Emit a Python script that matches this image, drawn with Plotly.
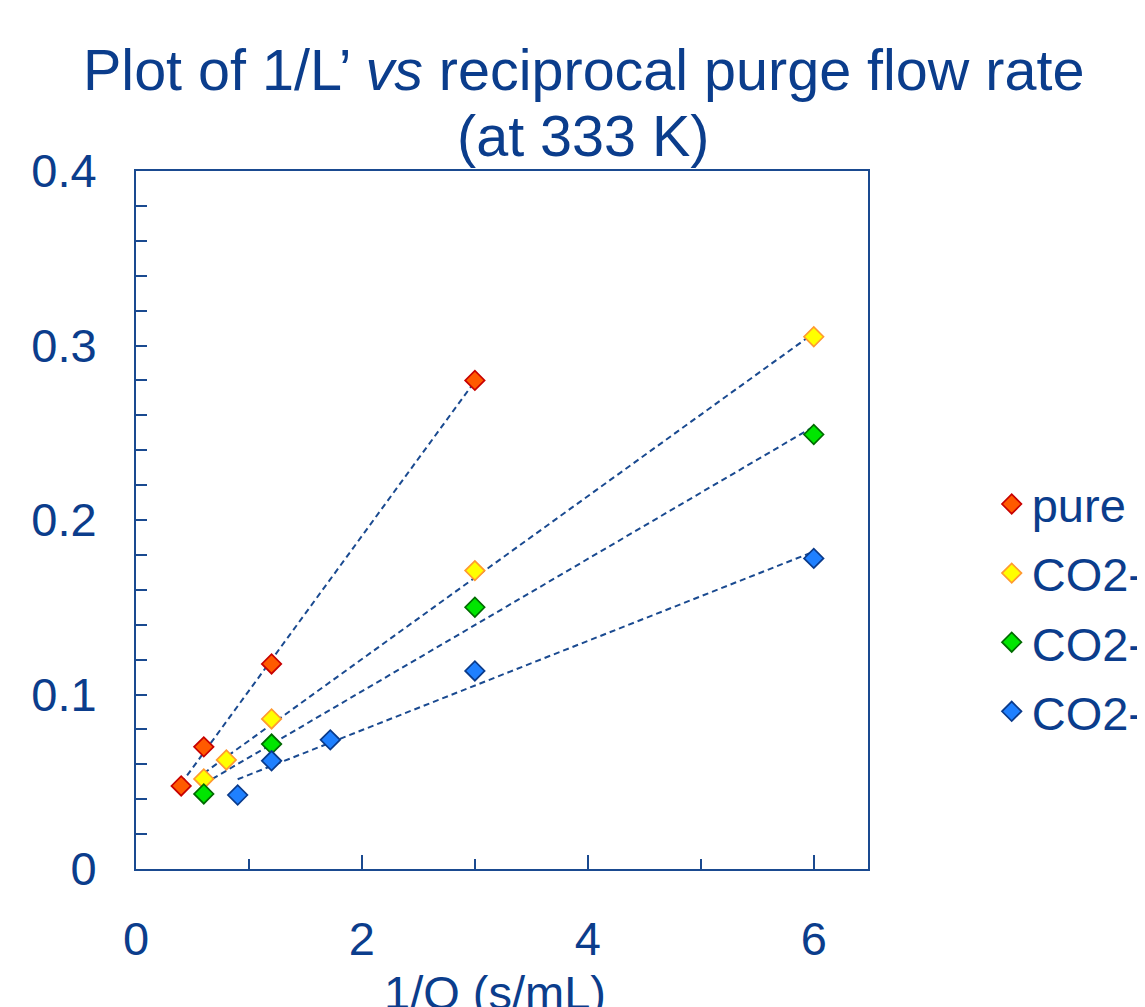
import numpy as np
import plotly.graph_objects as go

# ---- data ----
series_names = ["pure CO2", "CO2-mix A", "CO2-mix B", "CO2-mix C"]
x_pure = [0.4, 0.6, 1.2, 3.0]
y_pure = [0.0476, 0.070, 0.1175, 0.280]
x_a = [0.6, 0.8, 1.2, 3.0, 6.0]
y_a = [0.0516, 0.0625, 0.086, 0.171, 0.305]
x_b = [0.6, 1.2, 3.0, 6.0]
y_b = [0.043, 0.0716, 0.150, 0.249]
x_c = [0.9, 1.2, 1.72, 3.0, 6.0]
y_c = [0.0424, 0.062, 0.074, 0.1135, 0.178]

x_tick_vals = [0, 2, 4, 6]
y_tick_vals = [0, 0.1, 0.2, 0.3, 0.4]
y_tick_text = ["0", "0.1", "0.2", "0.3", "0.4"]

fills = ["#ff5a00", "#ffff00", "#00e600", "#1f80ff"]
edges = ["#c80000", "#ff9a30", "#006a00", "#0a3a8a"]

TXT = "#0b3d8c"
AX = "#1a4a90"
FONT = "Liberation Sans, Arial, sans-serif"

fig = go.Figure()
datasets = [(x_pure, y_pure), (x_a, y_a), (x_b, y_b), (x_c, y_c)]

# dashed linear trend lines (least-squares fit of each series)
for xs, ys in datasets:
    k, b = np.polyfit(xs, ys, 1)
    xl = [min(xs), max(xs)]
    fig.add_trace(go.Scatter(
        x=xl, y=[k * v + b for v in xl], mode="lines",
        line=dict(color=AX, width=2, dash="6px,4px"),
        showlegend=False, hoverinfo="skip"))

for i, (xs, ys) in enumerate(datasets):
    fig.add_trace(go.Scatter(
        x=xs, y=ys, mode="markers", name=series_names[i],
        legendgroup=f"g{i}",
        marker=dict(symbol="diamond", size=15, color=fills[i],
                    line=dict(color=edges[i], width=1.7))))

fig.update_layout(
    width=1145, height=1007,
    paper_bgcolor="white", plot_bgcolor="white",
    margin=dict(l=128, r=285, t=163, b=146, autoexpand=False),
    font=dict(family=FONT, color=TXT, size=47),
    legend=dict(x=1.169, xanchor="left", y=0.374, yanchor="middle",
                font=dict(size=47, color=TXT), tracegroupgap=5,
                bgcolor="rgba(0,0,0,0)"),
    annotations=[
        dict(text="Plot of 1/L’ <i>vs</i> reciprocal purge flow rate",
             x=0.6107, y=1.1447, xref="paper", yref="paper",
             xanchor="center", yanchor="middle", showarrow=False,
             font=dict(size=57.5, color=TXT, family=FONT)),
        dict(text="(at 333 K)",
             x=0.6107, y=1.0501, xref="paper", yref="paper",
             xanchor="center", yanchor="middle", showarrow=False,
             font=dict(size=57.5, color=TXT, family=FONT)),
        dict(text="1/Q (s/mL)",
             x=0.49, y=-0.136, xref="paper", yref="paper",
             xanchor="center", yanchor="top", showarrow=False,
             font=dict(size=47, color=TXT, family=FONT)),
    ],
)

fig.update_xaxes(
    range=[0, 6.48], showgrid=False, zeroline=False,
    showline=True, linecolor=AX, linewidth=2, mirror=True,
    tickmode="array", tickvals=x_tick_vals,
    ticks="inside", ticklen=14, tickwidth=1.5, tickcolor=AX,
    minor=dict(dtick=1, tick0=0, ticks="inside", ticklen=10, tickwidth=1.5, tickcolor=AX),
    ticklabelstandoff=28,
    tickfont=dict(size=47, color=TXT, family=FONT),
)
fig.update_yaxes(
    range=[0, 0.4], showgrid=False, zeroline=False,
    showline=True, linecolor=AX, linewidth=2, mirror=True,
    tickmode="array", tickvals=y_tick_vals, ticktext=y_tick_text,
    ticks="inside", ticklen=11, tickwidth=1.5, tickcolor=AX,
    minor=dict(dtick=0.02, tick0=0, ticks="inside", ticklen=11, tickwidth=1.5, tickcolor=AX),
    ticklabelstandoff=28,
    tickfont=dict(size=47, color=TXT, family=FONT),
)

fig.write_html("out.html")
